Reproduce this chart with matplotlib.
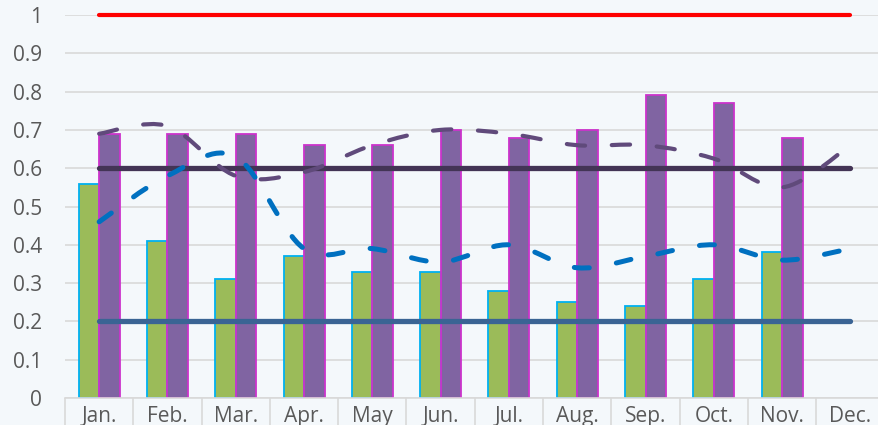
import numpy as np
import matplotlib.pyplot as plt
from matplotlib.path import Path
from matplotlib.patches import PathPatch

MONTHS = ["Jan.", "Feb.", "Mar.", "Apr.", "May", "Jun.", "Jul.", "Aug.",
          "Sep.", "Oct.", "Nov.", "Dec."]

# bar series (no December value)
green_vals = [0.56, 0.41, 0.31, 0.37, 0.33, 0.33, 0.28, 0.25, 0.24, 0.31, 0.38]
purple_vals = [0.69, 0.69, 0.69, 0.66, 0.66, 0.70, 0.68, 0.70, 0.79, 0.77, 0.68]

# smoothed dashed series
purple_trend = [0.69, 0.71, 0.58, 0.59, 0.66, 0.70, 0.69, 0.66, 0.66, 0.625, 0.55, 0.66]
blue_trend = [0.46, 0.58, 0.63, 0.39, 0.39, 0.355, 0.40, 0.34, 0.37, 0.40, 0.36, 0.39]

# reference levels
upper_level = [1.0] * 12
mid_level = [0.6] * 12
lower_level = [0.2] * 12

BG = "#F4F8FB"
GRID = "#D9D9D9"
TEXT = "#595959"


def smooth_path(xs, ys):
    # Catmull-Rom style cubic Bezier through every point
    pts = np.column_stack([xs, ys]).astype(float)
    n = len(pts)
    verts = [pts[0]]
    codes = [Path.MOVETO]
    for i in range(n - 1):
        p0 = pts[max(i - 1, 0)]
        p1 = pts[i]
        p2 = pts[i + 1]
        p3 = pts[min(i + 2, n - 1)]
        c1 = p1 + (p2 - p0) / 6.0
        c2 = p2 - (p3 - p1) / 6.0
        verts += [c1, c2, p2]
        codes += [Path.CURVE4] * 3
    return Path(verts, codes)


fig = plt.figure(figsize=(8.79, 4.25), dpi=100, facecolor=BG)
ax = fig.add_axes([65 / 879, 27 / 425, 819.6 / 879, 383 / 425], facecolor=BG)

x = np.arange(len(MONTHS))
xb = np.arange(len(green_vals))

ax.set_xlim(-0.5, 11.5)
ax.set_ylim(0, 1)
ax.set_yticks(np.arange(0, 1.01, 0.1))
ax.set_yticklabels(["0", "0.1", "0.2", "0.3", "0.4", "0.5", "0.6", "0.7", "0.8", "0.9", "1"])
ax.yaxis.grid(True, color=GRID, lw=1.2, zorder=0)
ax.set_axisbelow(True)

for s in ["top", "right", "left"]:
    ax.spines[s].set_visible(False)
ax.spines["bottom"].set_color(GRID)
ax.spines["bottom"].set_linewidth(1.2)

ax.tick_params(axis="y", length=0, pad=16.5, labelsize=15, labelcolor=TEXT)
ax.tick_params(axis="x", length=0, pad=6, labelsize=15, labelcolor=TEXT)
ax.set_xticks(x)
ax.set_xticklabels(MONTHS)
for lab in ax.get_xticklabels() + ax.get_yticklabels():
    lab.set_family("Open Sans")

# category boxes under the axis
ax.vlines(np.arange(-0.5, 12.0, 1.0), 0, -0.08, transform=ax.get_xaxis_transform(),
          colors=GRID, lw=1.2, clip_on=False)

# bars
ax.bar(xb - 0.15, green_vals, width=0.3, color="#9BBB59", edgecolor="#00B0F0",
       linewidth=1.3, zorder=2)
ax.bar(xb + 0.15, purple_vals, width=0.3, color="#8064A2", edgecolor="#CC33CC",
       linewidth=1.3, zorder=2)

# reference lines
ax.plot(x, upper_level, color="#FF0000", lw=3.0, solid_capstyle="round", zorder=4, clip_on=False)
ax.plot(x, mid_level, color="#433455", lw=3.8, solid_capstyle="round", zorder=4)
ax.plot(x, lower_level, color="#3A6494", lw=3.8, solid_capstyle="round", zorder=4)

# smoothed dashed curves
ax.add_patch(PathPatch(smooth_path(x, purple_trend), fill=False, edgecolor="#604A7B",
                       lw=3.0, linestyle=(0, (4.4, 6.4)), capstyle="round", zorder=5))
ax.add_patch(PathPatch(smooth_path(x, blue_trend), fill=False, edgecolor="#0070C0",
                       lw=3.6, linestyle=(0, (3.0, 5.5)), capstyle="round", zorder=5))

fig.savefig("out.png", dpi=100, facecolor=BG)
